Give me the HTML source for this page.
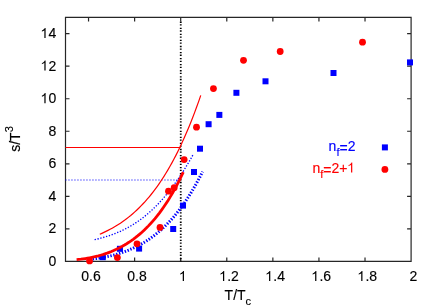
<!DOCTYPE html>
<html><head><meta charset="utf-8"><title>chart</title><style>html,body{margin:0;padding:0;background:#fff;}body{width:436px;height:305px;overflow:hidden;font-family:"Liberation Sans",sans-serif;}</style></head><body>
<svg width="436" height="305" viewBox="0 0 436 305" style="display:block">
<rect width="436" height="305" fill="#fff"/>
<path d="M65.5,17.4 H411.1 V261.4 H65.5 Z M88.54,261.4 v-4.0 M88.54,17.4 v4.0 M134.62,261.4 v-4.0 M134.62,17.4 v4.0 M180.70,261.4 v-4.0 M180.70,17.4 v4.0 M226.78,261.4 v-4.0 M226.78,17.4 v4.0 M272.86,261.4 v-4.0 M272.86,17.4 v4.0 M318.94,261.4 v-4.0 M318.94,17.4 v4.0 M365.02,261.4 v-4.0 M365.02,17.4 v4.0 M411.10,261.4 v-4.0 M411.10,17.4 v4.0 M65.5,261.40 h4.0 M411.1,261.40 h-4.0 M65.5,228.87 h4.0 M411.1,228.87 h-4.0 M65.5,196.33 h4.0 M411.1,196.33 h-4.0 M65.5,163.80 h4.0 M411.1,163.80 h-4.0 M65.5,131.27 h4.0 M411.1,131.27 h-4.0 M65.5,98.73 h4.0 M411.1,98.73 h-4.0 M65.5,66.20 h4.0 M411.1,66.20 h-4.0 M65.5,33.67 h4.0 M411.1,33.67 h-4.0" fill="none" stroke="#262626" stroke-width="1.2"/>
<path d="M180.75,21.599999999999998 V261.4" stroke="#000" stroke-width="1.8" stroke-dasharray="1.3 1.4 1.3 2.06" fill="none"/>
<path d="M65.5,147.5 H180.70" stroke="#ff0000" stroke-width="1" fill="none"/>
<path d="M65.2,180.0 H177.70" stroke="#0000ff" stroke-opacity="0.72" stroke-width="1.1" stroke-dasharray="1.5 1.5" fill="none"/>
<path d="M92.60,258.94 L94.84,258.67 L97.09,258.38 L99.33,258.05 L101.58,257.68 L103.82,257.28 L106.07,256.85 L108.31,256.37 L110.56,255.86 L112.80,255.31 L115.05,254.72 L117.29,254.08 L119.54,253.40 L121.78,252.67 L124.03,251.89 L126.27,251.06 L128.52,250.18 L130.76,249.24 L133.01,248.25 L135.25,247.19 L137.50,246.07 L139.74,244.89 L141.99,243.63 L144.23,242.31 L146.48,240.91 L148.72,239.44 L150.97,237.88 L153.21,236.25 L155.46,234.52 L157.70,232.71 L159.95,230.80 L162.19,228.80 L164.44,226.69 L166.68,224.49 L168.93,222.17 L171.17,219.74 L173.42,217.20 L175.66,214.53 L177.91,211.75 L180.15,208.83 L182.40,205.78 L184.64,202.59 L186.89,199.26 L189.13,195.79 L191.38,192.16 L193.62,188.37 L195.87,184.43 L198.11,180.32 L200.36,176.04 L202.60,171.58" fill="none" stroke="#0000ff" stroke-width="3" stroke-dasharray="1.4 1.6"/>
<path d="M94.60,239.70 L96.61,239.22 L98.63,238.72 L100.64,238.20 L102.66,237.65 L104.67,237.07 L106.69,236.45 L108.70,235.81 L110.71,235.13 L112.73,234.41 L114.74,233.65 L116.76,232.85 L118.77,232.00 L120.79,231.11 L122.80,230.17 L124.81,229.17 L126.83,228.13 L128.84,227.03 L130.86,225.88 L132.87,224.67 L134.89,223.40 L136.90,222.07 L138.91,220.68 L140.93,219.22 L142.94,217.70 L144.96,216.11 L146.97,214.45 L148.99,212.72 L151.00,210.92 L153.01,209.04 L155.03,207.09 L157.04,205.07 L159.06,202.96 L161.07,200.78 L163.09,198.52 L165.10,196.18 L167.11,193.75 L169.13,191.24 L171.14,188.65 L173.16,185.97 L175.17,183.21 L177.19,180.35 L179.20,177.41 L181.21,174.38 L183.23,171.26 L185.24,168.05 L187.26,164.75 L189.27,161.35 L191.29,157.86 L193.30,154.28" fill="none" stroke="#0000ff" stroke-width="1.35" stroke-dasharray="1.3 1.65"/>
<g fill="#0000ff">
<rect x="99.80" y="254.20" width="6" height="6"/>
<rect x="116.95" y="245.80" width="6" height="6"/>
<rect x="136.10" y="245.60" width="6" height="6"/>
<rect x="170.20" y="226.00" width="6" height="6"/>
<rect x="180.00" y="202.60" width="6" height="6"/>
<rect x="191.00" y="169.00" width="6" height="6"/>
<rect x="197.00" y="145.70" width="6" height="6"/>
<rect x="205.60" y="121.20" width="6" height="6"/>
<rect x="216.35" y="111.90" width="6" height="6"/>
<rect x="233.40" y="89.80" width="6" height="6"/>
<rect x="262.50" y="78.30" width="6" height="6"/>
<rect x="330.50" y="70.00" width="6" height="6"/>
<rect x="407.00" y="59.40" width="6" height="6"/>
</g>
<path d="M76.60,259.60 L78.78,259.40 L80.96,259.17 L83.13,258.89 L85.31,258.58 L87.49,258.23 L89.67,257.84 L91.84,257.41 L94.02,256.93 L96.20,256.41 L98.38,255.85 L100.55,255.24 L102.73,254.59 L104.91,253.88 L107.09,253.13 L109.26,252.32 L111.44,251.46 L113.62,250.54 L115.80,249.56 L117.97,248.52 L120.15,247.41 L122.33,246.24 L124.51,245.00 L126.68,243.69 L128.86,242.30 L131.04,240.83 L133.22,239.28 L135.39,237.65 L137.57,235.93 L139.75,234.11 L141.93,232.21 L144.10,230.20 L146.28,228.09 L148.46,225.87 L150.64,223.54 L152.81,221.10 L154.99,218.54 L157.17,215.85 L159.35,213.04 L161.52,210.09 L163.70,207.00 L165.88,203.77 L168.06,200.40 L170.23,196.86 L172.41,193.18 L174.59,189.32 L176.77,185.30 L178.94,181.10 L181.12,176.73 L183.30,172.16" fill="none" stroke="#ff0000" stroke-width="2.8"/>
<path d="M99.80,234.25 L101.86,233.35 L103.92,232.40 L105.98,231.41 L108.04,230.38 L110.10,229.30 L112.16,228.17 L114.22,226.99 L116.28,225.76 L118.34,224.47 L120.40,223.13 L122.46,221.72 L124.52,220.25 L126.58,218.71 L128.64,217.11 L130.70,215.44 L132.76,213.69 L134.82,211.87 L136.88,209.97 L138.94,207.99 L141.00,205.93 L143.06,203.78 L145.12,201.54 L147.18,199.20 L149.24,196.78 L151.31,194.25 L153.37,191.62 L155.43,188.89 L157.49,186.05 L159.55,183.10 L161.61,180.03 L163.67,176.85 L165.73,173.55 L167.79,170.12 L169.85,166.56 L171.91,162.88 L173.97,159.06 L176.03,155.10 L178.09,150.99 L180.15,146.75 L182.21,142.35 L184.27,137.80 L186.33,133.09 L188.39,128.23 L190.45,123.19 L192.51,117.99 L194.57,112.62 L196.63,107.07 L198.69,101.34 L200.75,95.42" fill="none" stroke="#ff0000" stroke-width="1.2"/>
<g fill="#ff0000">
<circle cx="89.55" cy="260.90" r="3.4"/>
<circle cx="117.40" cy="257.60" r="3.4"/>
<circle cx="137.00" cy="243.80" r="3.4"/>
<circle cx="160.00" cy="227.40" r="3.4"/>
<circle cx="168.50" cy="191.20" r="3.4"/>
<circle cx="174.20" cy="187.70" r="3.4"/>
<circle cx="184.15" cy="159.60" r="3.4"/>
<circle cx="196.50" cy="127.15" r="3.4"/>
<circle cx="213.45" cy="88.60" r="3.4"/>
<circle cx="243.50" cy="60.30" r="3.4"/>
<circle cx="280.20" cy="51.50" r="3.4"/>
<circle cx="362.50" cy="42.15" r="3.4"/>
</g>
<g font-family="Liberation Sans, sans-serif" font-size="14" fill="#000" stroke="#000" stroke-width="0.15" style="will-change:transform">
<text x="81.21" y="281.05">0</text><text x="89.00" y="281.05">.</text><text x="92.88" y="281.05">6</text>
<text x="127.29" y="281.05">0</text><text x="135.08" y="281.05">.</text><text x="138.96" y="281.05">8</text>
<path d="M763 0H583V1147Q518 1085 412.5 1023T223 930V1104Q374 1175 487 1276T647 1472H763Z" transform="translate(178.76,281.05) scale(0.006836,-0.006836)" fill="#000" stroke="none"/>
<path d="M763 0H583V1147Q518 1085 412.5 1023T223 930V1104Q374 1175 487 1276T647 1472H763Z" transform="translate(219.00,281.05) scale(0.006836,-0.006836)" fill="#000" stroke="none"/><text x="227.24" y="281.05">.</text><text x="231.12" y="281.05">2</text>
<path d="M763 0H583V1147Q518 1085 412.5 1023T223 930V1104Q374 1175 487 1276T647 1472H763Z" transform="translate(265.08,281.05) scale(0.006836,-0.006836)" fill="#000" stroke="none"/><text x="273.32" y="281.05">.</text><text x="277.20" y="281.05">4</text>
<path d="M763 0H583V1147Q518 1085 412.5 1023T223 930V1104Q374 1175 487 1276T647 1472H763Z" transform="translate(311.16,281.05) scale(0.006836,-0.006836)" fill="#000" stroke="none"/><text x="319.40" y="281.05">.</text><text x="323.28" y="281.05">6</text>
<path d="M763 0H583V1147Q518 1085 412.5 1023T223 930V1104Q374 1175 487 1276T647 1472H763Z" transform="translate(357.24,281.05) scale(0.006836,-0.006836)" fill="#000" stroke="none"/><text x="365.48" y="281.05">.</text><text x="369.36" y="281.05">8</text>
<text x="409.61" y="281.05">2</text>
<text x="48.61" y="265.80">0</text>
<text x="48.61" y="233.27">2</text>
<text x="48.61" y="200.73">4</text>
<text x="48.61" y="168.20">6</text>
<text x="48.61" y="135.67">8</text>
<path d="M763 0H583V1147Q518 1085 412.5 1023T223 930V1104Q374 1175 487 1276T647 1472H763Z" transform="translate(40.38,103.13) scale(0.006836,-0.006836)" fill="#000" stroke="none"/><text x="48.61" y="103.13">0</text>
<path d="M763 0H583V1147Q518 1085 412.5 1023T223 930V1104Q374 1175 487 1276T647 1472H763Z" transform="translate(40.38,70.60) scale(0.006836,-0.006836)" fill="#000" stroke="none"/><text x="48.61" y="70.60">2</text>
<path d="M763 0H583V1147Q518 1085 412.5 1023T223 930V1104Q374 1175 487 1276T647 1472H763Z" transform="translate(40.38,38.07) scale(0.006836,-0.006836)" fill="#000" stroke="none"/><text x="48.61" y="38.07">4</text>
<text x="224.6" y="300.4">T/T<tspan font-size="11.2" dy="4.6">c</tspan></text>
<text transform="translate(20.3,151.8) rotate(-90)">s/T<tspan font-size="11.2" dy="-7.2">3</tspan></text>
<text x="355.5" y="150.8" text-anchor="end" fill="#0000ff" stroke="#0000ff" stroke-width="0.15">n<tspan font-size="11.2" dy="5">f</tspan><tspan dy="-2.7">=</tspan><tspan dy="-2.3">2</tspan></text>
<text x="347.51" y="172.6" text-anchor="end" fill="#ff0000" stroke="#ff0000" stroke-width="0.15">n<tspan font-size="11.2" dy="5">f</tspan><tspan dy="-2.7">=</tspan><tspan dy="-2.3">2+</tspan></text>
<path d="M763 0H583V1147Q518 1085 412.5 1023T223 930V1104Q374 1175 487 1276T647 1472H763Z" transform="translate(347.06,172.6) scale(0.006836,-0.006836)" fill="#ff0000" stroke="none"/>
</g>
<rect x="381.9" y="144.4" width="6" height="6" fill="#0000ff"/>
<circle cx="384.9" cy="169.4" r="3.4" fill="#ff0000"/>
</svg>
</body></html>
